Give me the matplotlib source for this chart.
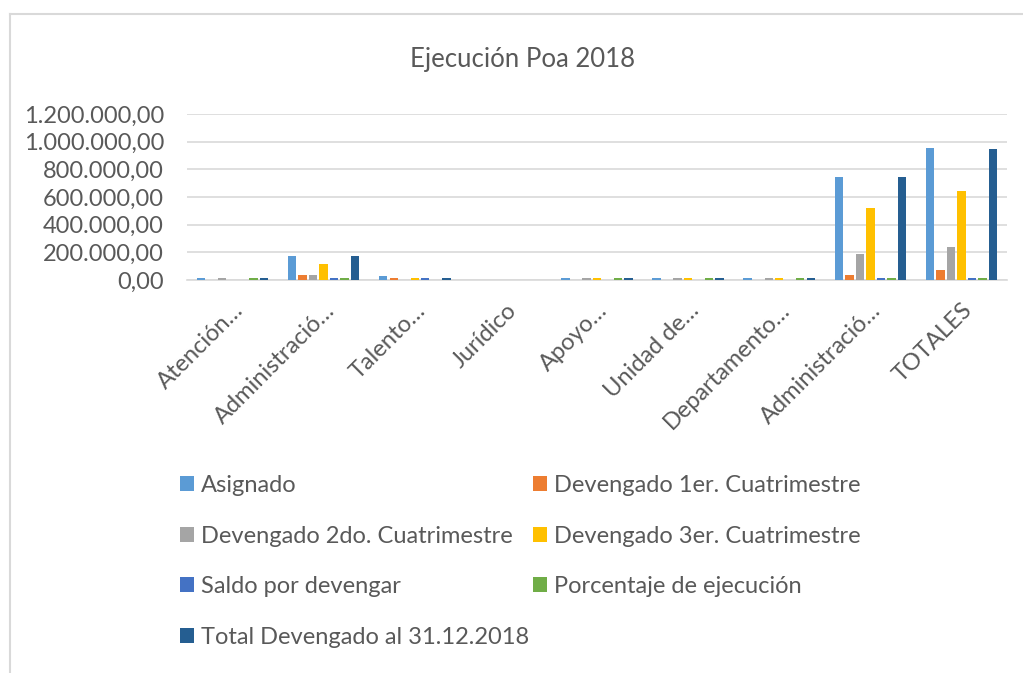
import matplotlib
matplotlib.use("Agg")
import matplotlib.pyplot as plt
import numpy as np
from matplotlib.lines import Line2D
from matplotlib.patches import Patch

categories = ["Atención…", "Administració…", "Talento…", "Jurídico", "Apoyo…",
              "Unidad de…", "Departamento…", "Administració…", "TOTALES"]
series_names = ["Asignado", "Devengado 1er. Cuatrimestre", "Devengado 2do. Cuatrimestre",
                "Devengado 3er. Cuatrimestre", "Saldo por devengar", "Porcentaje de ejecución",
                "Total Devengado al 31.12.2018"]
asignado = [14000, 175000, 26000, 0, 14000, 14000, 14000, 741000, 951000]
dev1 = [0, 36000, 14000, 0, 0, 0, 0, 36000, 70000]
dev2 = [14000, 36000, 0, 0, 14000, 14000, 14000, 186000, 238000]
dev3 = [0, 113000, 14000, 0, 14000, 14000, 14000, 518000, 645000]
saldo = [0, 14000, 14000, 0, 0, 0, 0, 14000, 14000]
porcentaje = [14000, 14000, 0, 0, 14000, 14000, 14000, 14000, 14000]
total = [14000, 175000, 14000, 0, 14000, 14000, 14000, 741000, 944000]
yticks = [0, 200000, 400000, 600000, 800000, 1000000, 1200000]

colors = ["#5B9BD5", "#ED7D31", "#A5A5A5", "#FFC000", "#4472C4", "#70AD47", "#255E91"]
series = [asignado, dev1, dev2, dev3, saldo, porcentaje, total]

W, H = 1023, 673
fig = plt.figure(figsize=(W / 100, H / 100), dpi=100)
fig.patch.set_facecolor("white")

FONT = ["Lato", "DejaVu Sans"]
TXT = "#595959"
FS = 17

ax = fig.add_axes([187 / W, 1 - 280 / H, 820 / W, 166 / H])
x = np.arange(len(categories))
step = 0.1154
for j, (vals, c) in enumerate(zip(series, colors)):
    ax.bar(x + (j - 3) * step, vals, width=step * 0.8, color=c, zorder=3, linewidth=0)

ax.set_xlim(-0.5, len(categories) - 0.5)
ax.set_ylim(0, 1200000)
ax.set_yticks(yticks)
ax.set_yticklabels([f"{v:,.2f}".replace(",", "X").replace(".", ",").replace("X", ".") for v in yticks],
                   fontfamily=FONT, fontsize=FS, color=TXT)
ax.yaxis.grid(True, color="#D9D9D9", linewidth=1.2, zorder=0)
ax.set_axisbelow(True)
for s in ["top", "right", "left"]:
    ax.spines[s].set_visible(False)
ax.spines["bottom"].set_color("#D9D9D9")
ax.spines["bottom"].set_linewidth(1.2)
ax.tick_params(axis="both", length=0)
ax.tick_params(axis="y", pad=16.5)
ax.set_xticks(x)
ax.set_xticklabels(categories, rotation=45, ha="right", rotation_mode="anchor",
                   fontfamily=FONT, fontsize=FS, color=TXT)
ax.tick_params(axis="x", pad=14)

fig.text(523 / W, 1 - 60 / H, "Ejecución Poa 2018", ha="center", va="center",
         fontfamily=FONT, fontsize=18.5, color=TXT)

legend_kw = dict(loc="upper left", ncol=1, frameon=False, prop={"family": FONT, "size": FS},
                 handlelength=0.6, handleheight=0.6, handletextpad=0.3,
                 labelspacing=1.25, borderpad=0, borderaxespad=0)
left_idx = [0, 2, 4, 6]
right_idx = [1, 3, 5]
leg1 = fig.legend([Patch(facecolor=colors[i], edgecolor="none") for i in left_idx],
                  [series_names[i] for i in left_idx],
                  bbox_to_anchor=(180 / W, 1 - 475 / H), **legend_kw)
leg2 = fig.legend([Patch(facecolor=colors[i], edgecolor="none") for i in right_idx],
                  [series_names[i] for i in right_idx],
                  bbox_to_anchor=(533 / W, 1 - 475 / H), **legend_kw)
for lg in (leg1, leg2):
    for t in lg.get_texts():
        t.set_color(TXT)

fig.add_artist(Line2D([10 / W, 10 / W], [0, 1 - 14 / H], color="#D9D9D9", lw=1.5,
                      transform=fig.transFigure))
fig.add_artist(Line2D([10 / W, 1], [1 - 14 / H, 1 - 14 / H], color="#D9D9D9", lw=1.5,
                      transform=fig.transFigure))

fig.savefig("out.png", dpi=100)
